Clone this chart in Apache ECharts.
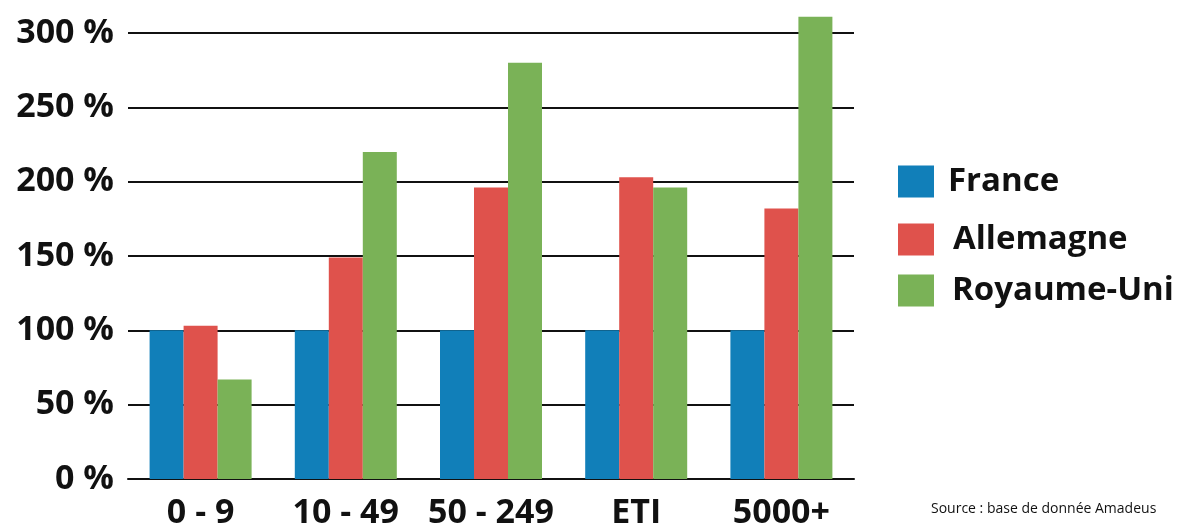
<!DOCTYPE html>
<html>
<head>
<meta charset="utf-8">
<script src="https://cdn.jsdelivr.net/npm/echarts@6/dist/echarts.min.js"></script>
<style>
  html, body { margin: 0; padding: 0; background: #fff; }
  #chart { width: 1189px; height: 525px; }
</style>
</head>
<body>
<div id="chart"></div>
<script type="text/javascript">
  // tranches de taille d'entreprise
  var categories = ['0 - 9', '10 - 49', '50 - 249', 'ETI', '5000+']
  var france = [100, 100, 100, 100, 100]
  var allemagne = [103, 149, 196, 203, 182]
  var royaumeUni = [67, 220, 280, 196, 311]
  var yTicks = [0, 50, 100, 150, 200, 250, 300]

  var font = 'Open Sans'
  var chart = echarts.init(document.getElementById('chart'))

  function legendAt(name, top, pad) {
    return {
      data: [name],
      left: 893,
      top: top,
      orient: 'vertical',
      itemWidth: 36,
      itemHeight: 32,
      icon: 'rect',
      selectedMode: false,
      textStyle: {
        fontFamily: font,
        fontWeight: 'bold',
        fontSize: 33,
        color: '#111',
        padding: [0, 0, 0, pad]
      }
    }
  }

  chart.setOption({
    animation: false,
    color: ['#117fb9', '#df524c', '#7ab257'],
    grid: {
      left: 128,
      right: 335,
      top: 33,
      bottom: 46,
      outerBoundsMode: 'none'
    },
    title: {
      text: 'Source : base de donnée Amadeus',
      left: 926,
      top: 497,
      textStyle: {
        fontFamily: font,
        fontWeight: 'normal',
        fontSize: 14,
        color: '#111'
      }
    },
    legend: [
      legendAt('France', 160, 9),
      legendAt('Allemagne', 218, 14),
      legendAt('Royaume-Uni', 269, 13)
    ],
    xAxis: {
      type: 'category',
      data: categories,
      axisLine: { lineStyle: { color: '#111', width: 2 } },
      axisTick: { show: false },
      axisLabel: {
        interval: 0,
        margin: 17,
        fontFamily: font,
        fontWeight: 'bold',
        fontSize: 34,
        color: '#111'
      }
    },
    yAxis: {
      type: 'value',
      min: yTicks[0],
      max: yTicks[yTicks.length - 1],
      interval: 50,
      axisLine: { show: false },
      axisTick: { show: false },
      splitLine: { lineStyle: { color: '#111', width: 2 } },
      axisLabel: {
        margin: 14,
        formatter: '{value} %',
        fontFamily: font,
        fontWeight: 'bold',
        fontSize: 34,
        color: '#111'
      }
    },
    series: [
      { name: 'France', type: 'bar', data: france, barWidth: 34, barGap: '0%', clip: false },
      { name: 'Allemagne', type: 'bar', data: allemagne, barWidth: 34, barGap: '0%', clip: false },
      { name: 'Royaume-Uni', type: 'bar', data: royaumeUni, barWidth: 34, barGap: '0%', clip: false }
    ]
  })
</script>
</body>
</html>
